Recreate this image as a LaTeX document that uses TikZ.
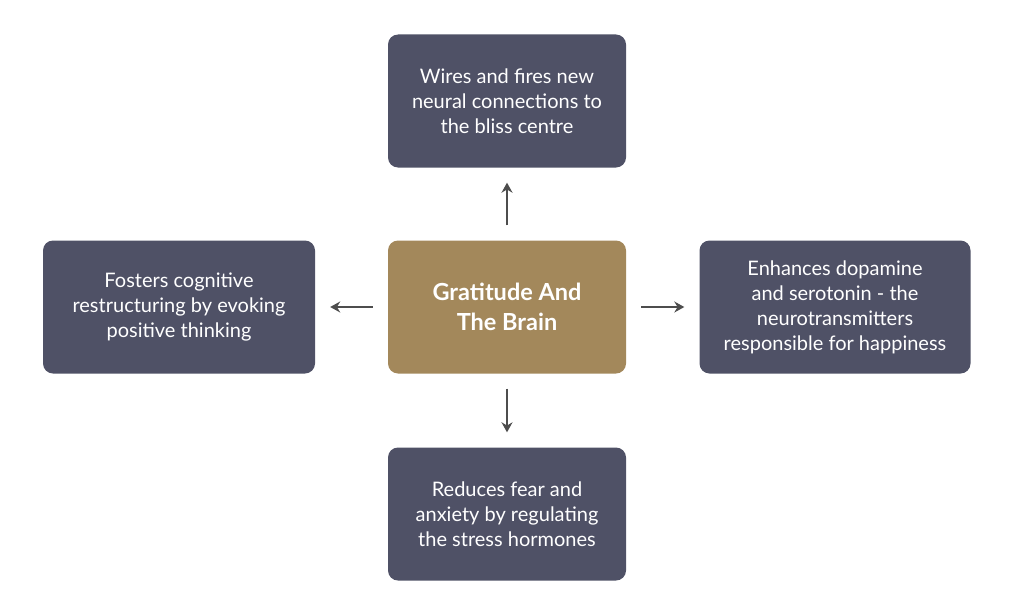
\documentclass[tikz,border=0pt]{standalone}
\usepackage{fontspec}
\setmainfont{Lato}
\usetikzlibrary{arrows.meta}

\definecolor{slatebox}{HTML}{4F5166}
\definecolor{goldbox}{HTML}{A3885B}
\definecolor{arrowgray}{HTML}{4D4D4D}

\begin{document}
\begin{tikzpicture}[x=1pt,y=-1pt,
    effect/.style={fill=slatebox,rounded corners=10pt,text=white,align=center,
        minimum height=133pt,inner sep=0pt,font=\fontsize{20}{25}\selectfont},
    hub/.style={effect,fill=goldbox,font=\fontsize{23.5}{30}\selectfont\bfseries},
    link/.style={arrowgray,line width=2.2pt,-{Stealth[length=10pt,width=11pt]},
        shorten <=15pt,shorten >=15pt}]
       \useasboundingbox(0,0)rectangle(1024,610);%画面

       \node[hub,minimum width=238pt](brain)at(507,307){Gratitude And\\The Brain};%中心
       \node[effect,minimum width=238pt](wires)at(507,101){Wires and fires new\\neural connections to\\the bliss centre};%上
       \node[effect,minimum width=238pt](fear)at(507,514){Reduces fear and\\anxiety by regulating\\the stress hormones};%下
       \node[effect,minimum width=272pt](fosters)at(179,307){Fosters cognitive\\restructuring by evoking\\positive thinking};%左
       \node[effect,minimum width=271pt](dopa)at(835,307){Enhances dopamine\\and serotonin - the\\neurotransmitters\\responsible for happiness};%右

       \foreach \t in{wires,fear,fosters,dopa}
           \draw[link](brain)--(\t);%矢印
\end{tikzpicture}
\end{document}
